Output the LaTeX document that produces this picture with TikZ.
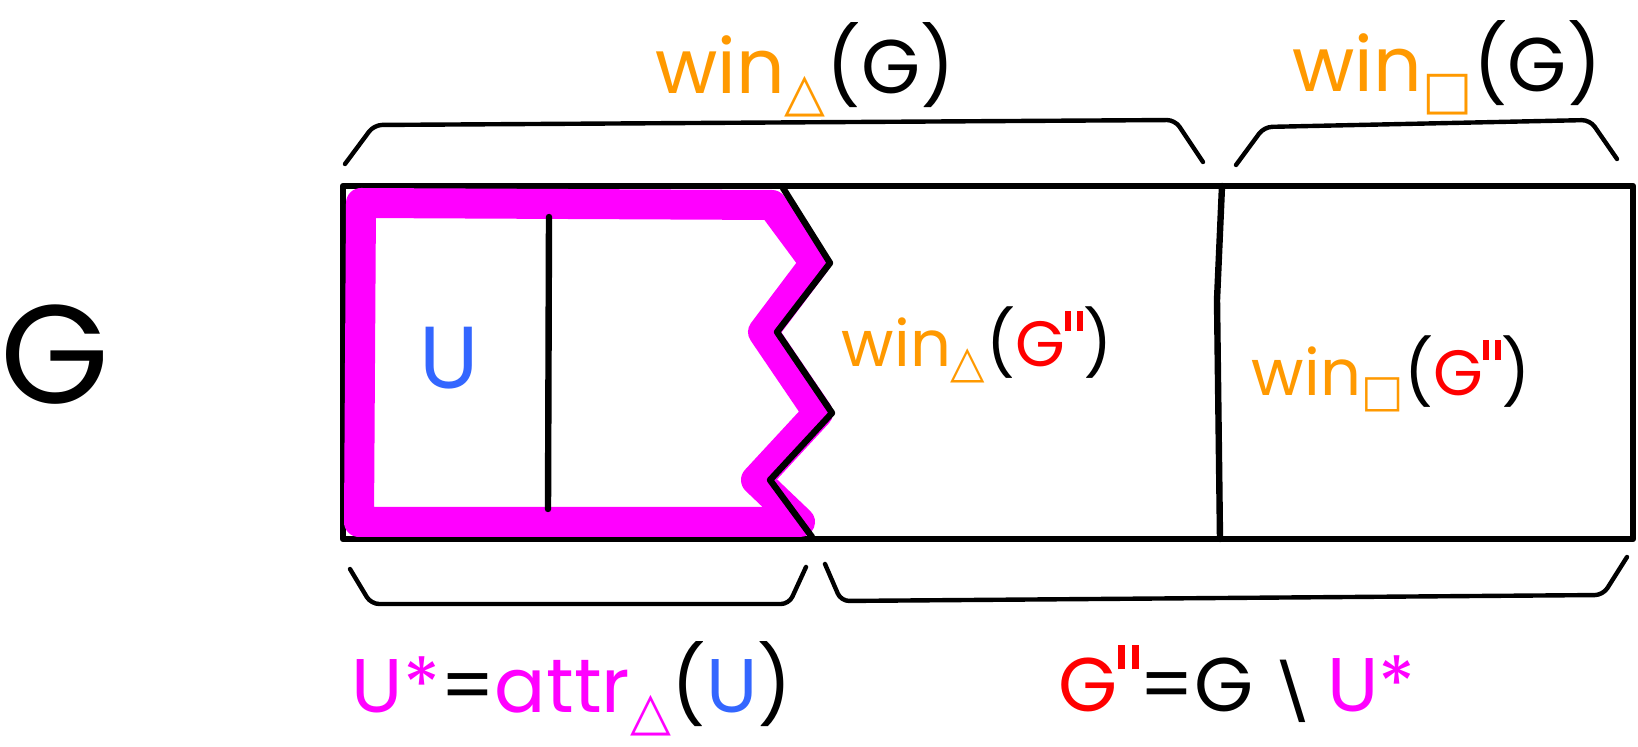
\documentclass[tikz,border=0pt]{standalone}
\usepackage{fontspec}
\setmainfont{Poppins}
\newfontfamily\symf{DejaVu Sans}
\definecolor{wor}{RGB}{255,153,0}
\definecolor{mag}{RGB}{255,0,255}
\definecolor{ured}{RGB}{255,0,0}
\definecolor{ublue}{RGB}{51,102,255}
\newcommand{\wintri}{\textcolor{wor}{win\textsubscript{\symf\bfseries △}}}
\newcommand{\winsq}{\textcolor{wor}{win\textsubscript{\symf\bfseries □}}}
\newcommand{\pprime}{\raisebox{0.55em}{\rule{0.09em}{0.32em}\hspace{0.1em}\rule{0.09em}{0.32em}}}
\newcommand{\Gpp}{\textcolor{ured}{G\pprime}}
\tikzset{
  edge/.style={line width=3.2pt},
  brace/.style={line width=2.2pt, rounded corners=4pt},
  biglab/.style={font=\fontsize{38}{44}\selectfont, inner sep=0pt},
  midlab/.style={font=\fontsize{32}{38}\selectfont, inner sep=0pt},
}
\begin{document}
\begin{tikzpicture}[x=0.5pt,y=-0.5pt, line cap=round, line join=round]
\useasboundingbox (0,0) rectangle (1638,747);
% outer rectangle
\draw[edge] (343,186) rectangle (1633,539);
% attractor region
\draw[mag, line width=15pt] (772,205) -- (361,203) -- (359,522) -- (800,522) -- (756,480) -- (818,413) -- (763,332) -- (815,263) -- cycle;
% inner lines
\draw[edge] (549,217) -- (548,509);
\draw[edge] (783,188) -- (830,263) -- (777,332) -- (832,413) -- (770,480) -- (812,537);
\draw[edge] (1222,186) -- (1217,300) -- (1220,539);
% braces
\draw[brace] (345,164) -- (374,125) -- (1175,120) -- (1203,162);
\draw[brace] (1236,165) -- (1264,127) -- (1590,120) -- (1617,159);
\draw[brace] (350,569) -- (371,604) -- (789,604) -- (806,567);
\draw[brace] (825,564) -- (841,601) -- (1603,595) -- (1627,557);
% labels
\node[font=\fontsize{70}{80}\selectfont, inner sep=0pt] (g) at (55,355) {G};
\node[font=\fontsize{44}{50}\selectfont, inner sep=0pt, text=ublue] (u) at (449,358) {U};
\node[biglab] (wtg) at (805,70) {\wintri(G)};
\node[biglab] (wsg) at (1447,68) {\winsq(G)};
\node[midlab] (wtgp) at (977,345) {\wintri(\Gpp)};
\node[midlab] (wsgp) at (1391,374) {\winsq(\Gpp)};
\node[biglab] (ustar) at (572,689) {\textcolor{mag}{U*}=\textcolor{mag}{attr\textsubscript{\symf\bfseries △}}(\textcolor{ublue}{U})};
\node[biglab] (gdef) at (1237,684) {\Gpp=G\,{\symf\raisebox{-0.1em}{∖}}\,\textcolor{mag}{U*}};
\end{tikzpicture}
\end{document}
